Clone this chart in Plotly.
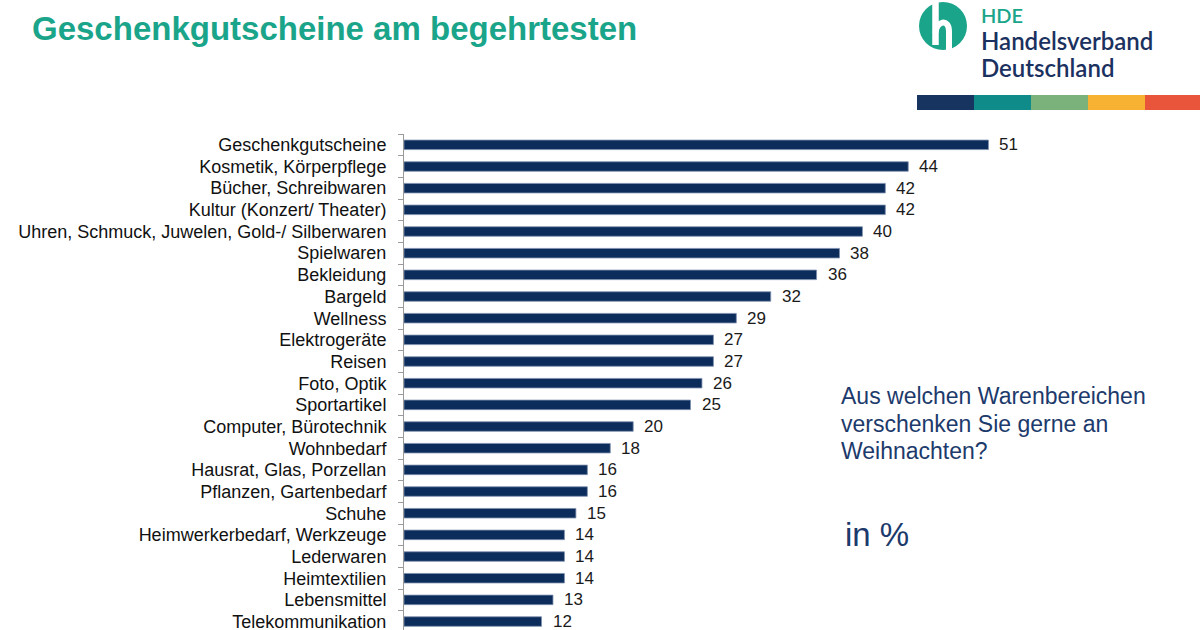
import plotly.graph_objects as go

categories = [
    "Geschenkgutscheine", "Kosmetik, Körperpflege", "Bücher, Schreibwaren",
    "Kultur (Konzert/ Theater)", "Uhren, Schmuck, Juwelen, Gold-/ Silberwaren",
    "Spielwaren", "Bekleidung", "Bargeld", "Wellness", "Elektrogeräte", "Reisen",
    "Foto, Optik", "Sportartikel", "Computer, Bürotechnik", "Wohnbedarf",
    "Hausrat, Glas, Porzellan", "Pflanzen, Gartenbedarf", "Schuhe",
    "Heimwerkerbedarf, Werkzeuge", "Lederwaren", "Heimtextilien", "Lebensmittel",
    "Telekommunikation",
]
values = [51, 44, 42, 42, 40, 38, 36, 32, 29, 27, 27, 26, 25, 20, 18, 16, 16, 15, 14, 14, 14, 13, 12]

question_lines = ["Aus welchen Warenbereichen", "verschenken Sie gerne an", "Weihnachten?"]

W, H = 1200, 630
NAVY = "#0c2d5b"
TEAL = "#1aa58b"
ARIAL = "Liberation Sans, Arial, sans-serif"


def px(x):
    return x / W


def py(y):
    return (H - y) / H


fig = go.Figure()
fig.add_trace(go.Bar(
    x=values, y=categories, orientation="h", width=0.44,
    marker=dict(color=NAVY, line=dict(color="#7d8fae", width=0.8)),
    hoverinfo="x+y",
))

annotations = []
for c, v in zip(categories, values):
    annotations.append(dict(
        x=v, y=c, xref="x", yref="y", text=str(v), showarrow=False,
        xanchor="left", yanchor="middle", xshift=9,
        font=dict(family=ARIAL, size=17, color="#1a1a1a"),
    ))

# Title
annotations.append(dict(
    x=px(30), y=py(29), xref="paper", yref="paper", xanchor="left", yanchor="middle",
    text="<b>Geschenkgutscheine am begehrtesten</b>", showarrow=False,
    font=dict(family=ARIAL, size=33, color=TEAL),
))
# Logo texts
logo_font = "Lato, sans-serif"
annotations.append(dict(
    x=px(979), y=py(15), xref="paper", yref="paper", xanchor="left", yanchor="middle",
    text="HDE", showarrow=False, height=20,
    font=dict(family=logo_font, size=20, color=TEAL, weight=600),
))
annotations.append(dict(
    x=px(979), y=py(40), xref="paper", yref="paper", xanchor="left", yanchor="middle",
    text="Handelsverband", showarrow=False, height=24,
    font=dict(family=logo_font, size=24, color="#1b3160", weight=600),
))
annotations.append(dict(
    x=px(979), y=py(67), xref="paper", yref="paper", xanchor="left", yanchor="middle",
    text="Deutschland", showarrow=False, height=24,
    font=dict(family=logo_font, size=24, color="#1b3160", weight=600),
))
# Question
for i, line in enumerate(question_lines):
    annotations.append(dict(
        x=px(839), y=py(396 + 27.5 * i), xref="paper", yref="paper",
        xanchor="left", yanchor="middle", text=line, showarrow=False,
        font=dict(family=ARIAL, size=23, color="#1c3a6b"),
    ))
annotations.append(dict(
    x=px(843), y=py(534), xref="paper", yref="paper", xanchor="left", yanchor="middle",
    text="in %", showarrow=False,
    font=dict(family=ARIAL, size=33, color="#1c3a6b"),
))

shapes = []
# Logo circle
shapes.append(dict(type="circle", xref="paper", yref="paper",
                   x0=px(919), x1=px(967), y0=py(50), y1=py(2),
                   fillcolor=TEAL, line=dict(width=0)))


def path(points_cmd):
    out = []
    for tok in points_cmd:
        if isinstance(tok, str):
            out.append(tok)
        else:
            out.append(f"{px(tok[0]):.5f},{py(tok[1]):.5f}")
    return " ".join(out)


shapes.append(dict(type="path", xref="paper", yref="paper",
                   path=path(["M", (935.5, 2), "L", (935.5, 45)]),
                   line=dict(color="white", width=6.5)))
shapes.append(dict(type="path", xref="paper", yref="paper",
                   path=path(["M", (935.5, 33), "C", (936, 21), (949, 18), (949, 31), "L", (949, 50)]),
                   line=dict(color="white", width=6)))
# Color bar
seg_colors = ["#17335f", "#0f8b89", "#7bb27b", "#f7b234", "#e9553b"]
x_edges = [917, 974, 1031, 1088, 1145, 1200]
for i, col in enumerate(seg_colors):
    shapes.append(dict(type="rect", xref="paper", yref="paper",
                       x0=px(x_edges[i]), x1=px(x_edges[i + 1]), y0=py(110), y1=py(95),
                       fillcolor=col, line=dict(width=0)))

fig.update_layout(
    width=W, height=H,
    margin=dict(l=0, r=0, t=0, b=0),
    paper_bgcolor="white", plot_bgcolor="white",
    showlegend=False,
    annotations=annotations,
    shapes=shapes,
    xaxis=dict(domain=[404 / W, 1], range=[0, 796 / 11.46], visible=False, fixedrange=True),
    yaxis=dict(
        domain=[0, (H - 134) / H], range=[22.39, -0.5], type="category",
        tickmode="array", tickvals=categories, ticktext=categories,
        showline=True, linecolor="#9a9a9a", linewidth=1,
        ticks="outside", tickson="boundaries", ticklen=5, tickcolor="#9a9a9a",
        tickfont=dict(family=ARIAL, size=18, color="#111111"),
        ticklabelstandoff=13, showgrid=False, automargin=False, fixedrange=True,
    ),
)

fig.write_html(
    "out.html",
    config={"displayModeBar": False},
    post_script="document.body.style.margin='0';document.body.style.overflow='hidden';",
)
